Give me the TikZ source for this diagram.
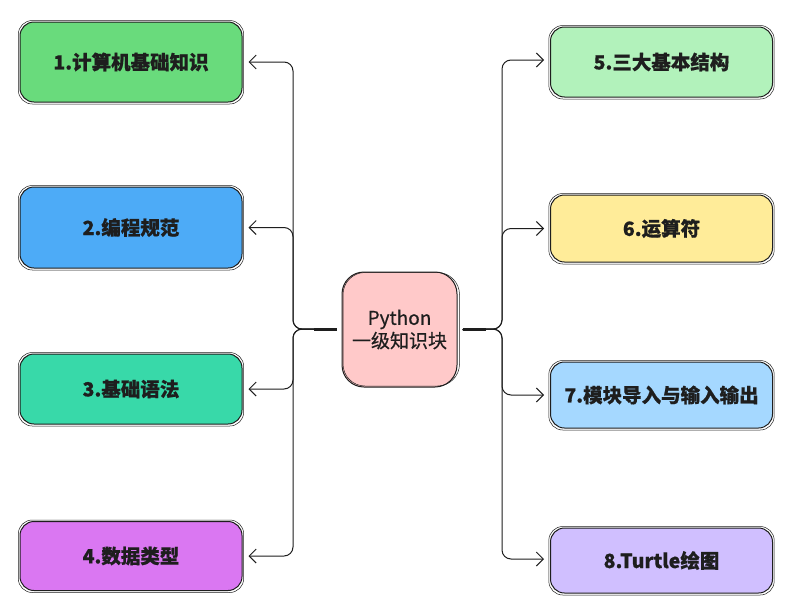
\documentclass[tikz,border=0pt]{standalone}
\usepackage{fontspec}
\setmainfont{Noto Sans CJK SC}[FakeBold=0.6]
\usetikzlibrary{arrows.meta,calc}
\definecolor{ink}{HTML}{1E1E1E}
\definecolor{cA}{HTML}{69DB7C}
\definecolor{cB}{HTML}{4DABF7}
\definecolor{cC}{HTML}{38D9A9}
\definecolor{cD}{HTML}{DA77F2}
\definecolor{cE}{HTML}{B2F2BB}
\definecolor{cF}{HTML}{FFEC99}
\definecolor{cG}{HTML}{A5D8FF}
\definecolor{cH}{HTML}{D0BFFF}
\definecolor{cP}{HTML}{FFC9C9}
\tikzset{
  topic/.style={draw=ink, line width=1pt, rounded corners=14pt, minimum width=222pt,
    font=\fontsize{19.5}{22}\bfseries, text=ink, inner sep=0pt},
  hub/.style={draw=ink, line width=1pt, rounded corners=22pt, minimum width=115pt, minimum height=115pt,
    font=\fontsize{19}{23}\selectfont, text=ink, align=center, inner sep=0pt},
  sketch/.style={draw=ink, line width=0.5pt},
  conn/.style={draw=ink, line width=1pt, rounded corners=9pt, -{Straight Barb[length=7pt,width=14pt,line width=1pt]}}
}
\begin{document}
\begin{tikzpicture}[x=1pt,y=-1pt]
\useasboundingbox[fill=white] (0,0) rectangle (786,608);
% left topics
\node[topic, fill=cA, minimum height=80pt] (b1) at (131,62) {1.计算机基础知识};
\node[topic, fill=cB, minimum height=81pt] (b2) at (131,227.5) {2.编程规范};
\node[topic, fill=cC, minimum height=70pt] (b3) at (131,389) {3.基础语法};
\node[topic, fill=cD, minimum height=69pt] (b4) at (131,556) {4.数据类型};
% right topics
\node[topic, fill=cE, minimum height=70pt] (b5) at (661.5,62) {5.三大基本结构};
\node[topic, fill=cF, minimum height=67pt] (b6) at (661.5,228.5) {6.运算符};
\node[topic, fill=cG, minimum height=66pt] (b7) at (661.5,395) {7.模块导入与输入输出};
\node[topic, fill=cH, minimum height=65pt] (b8) at (661.5,560.5) {8.Turtle绘图};
% hub
\node[hub, fill=cP] (c) at (399.5,329.5) {Python\\一级知识块};
% sketchy second strokes
\foreach \n in {b1,b2,b3,b4,b5,b6,b7,b8}{
  \draw[sketch, rounded corners=14pt] ($(\n.south west)+(-1.2,1.5)$) rectangle ($(\n.north east)+(1.2,-1)$);
}
\draw[sketch, rounded corners=22pt] ($(c.south west)+(1.5,-1.5)$) rectangle ($(c.north east)+(2,1)$);
% junctions
\coordinate (lj) at (293,329);
\coordinate (rj) at (502,329);
\draw[ink, line width=2.2pt] ([xshift=-5pt]c.west) -- ([xshift=-28pt]c.west);
\draw[ink, line width=2.2pt] ([xshift=5pt]c.east) -- ([xshift=28pt]c.east);
\draw[conn] ([xshift=-5pt]c.west) -- (lj) |- ([xshift=6pt]b1.east);
\draw[conn] ([xshift=-5pt]c.west) -- (lj) |- ([xshift=6pt]b2.east);
\draw[conn] ([xshift=-5pt]c.west) -- (lj) |- ([xshift=6pt]b3.east);
\draw[conn] ([xshift=-5pt]c.west) -- (lj) |- ([xshift=6pt]b4.east);
\draw[conn] ([xshift=5pt]c.east) -- (rj) |- ([xshift=-6pt,yshift=2pt]b5.west);
\draw[conn] ([xshift=5pt]c.east) -- (rj) |- ([xshift=-6pt]b6.west);
\draw[conn] ([xshift=5pt]c.east) -- (rj) |- ([xshift=-6pt]b7.west);
\draw[conn] ([xshift=5pt]c.east) -- (rj) |- ([xshift=-6pt,yshift=1.5pt]b8.west);
\end{tikzpicture}
\end{document}
